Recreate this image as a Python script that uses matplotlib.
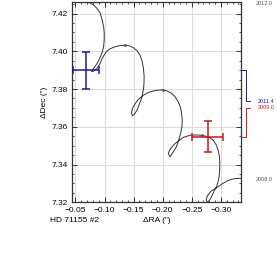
import numpy as np
import matplotlib
matplotlib.use('Agg')
import matplotlib.pyplot as plt
from matplotlib.ticker import MultipleLocator
import matplotlib.transforms as mtransforms

plt.rcParams['font.family'] = ['Liberation Sans', 'DejaVu Sans']

# apparent track of the companion (RA, Dec offsets in arcsec)
track_ra = [-0.0618, -0.0721, -0.0807, -0.0875, -0.0926, -0.0961, -0.0986, -0.0995, -0.0995, -0.0983,
            -0.0961, -0.0926, -0.0884, -0.0841, -0.0798, -0.0772, -0.0815, -0.0875, -0.0926, -0.0961,
            -0.1003, -0.1041, -0.1098, -0.1183, -0.1269, -0.1354, -0.1423, -0.1497, -0.1560, -0.1611,
            -0.1646, -0.1668, -0.1680, -0.1680, -0.1671, -0.1654, -0.1628, -0.1594, -0.1568, -0.1526,
            -0.1483, -0.1462, -0.1483, -0.1521, -0.1577, -0.1668, -0.1731, -0.1783, -0.1868, -0.1954,
            -0.2010, -0.2074, -0.2151, -0.2211, -0.2267, -0.2305, -0.2325, -0.2336, -0.2330, -0.2308,
            -0.2267, -0.2236, -0.2185, -0.2125, -0.2096, -0.2139, -0.2211, -0.2296, -0.2353, -0.2467,
            -0.2570, -0.2673, -0.2781, -0.2866, -0.2921, -0.2952, -0.2974, -0.2981, -0.2978, -0.2969,
            -0.2950, -0.2925, -0.2887, -0.2853, -0.2818, -0.2767, -0.2747, -0.2772, -0.2827, -0.2925,
            -0.2981, -0.3038, -0.3110, -0.3182, -0.3255, -0.3324, -0.3409]
track_dec = [7.4281, 7.4261, 7.4247, 7.4226, 7.4202, 7.4165, 7.4128, 7.4096, 7.4059, 7.4023,
             7.3995, 7.3969, 7.3942, 7.3921, 7.3903, 7.3893, 7.3895, 7.3911, 7.3937, 7.3963,
             7.3985, 7.4001, 7.4014, 7.4024, 7.4031, 7.4032, 7.4030, 7.4019, 7.4003, 7.3979,
             7.3948, 7.3911, 7.3874, 7.3836, 7.3805, 7.3773, 7.3744, 7.3717, 7.3694, 7.3672,
             7.3658, 7.3675, 7.3699, 7.3720, 7.3744, 7.3767, 7.3778, 7.3785, 7.3792, 7.3795,
             7.3795, 7.3790, 7.3778, 7.3760, 7.3732, 7.3704, 7.3671, 7.3635, 7.3598, 7.3565,
             7.3521, 7.3495, 7.3469, 7.3441, 7.3461, 7.3487, 7.3511, 7.3531, 7.3544, 7.3555,
             7.3557, 7.3555, 7.3547, 7.3530, 7.3503, 7.3477, 7.3445, 7.3406, 7.3371, 7.3335,
             7.3307, 7.3283, 7.3262, 7.3238, 7.3217, 7.3197, 7.3215, 7.3236, 7.3258, 7.3277,
             7.3289, 7.3301, 7.3313, 7.3322, 7.3326, 7.3327, 7.3327]

# small date markers on the track
mark_ra = [-0.1354, -0.2010, -0.2673]
mark_dec = [7.4032, 7.3795, 7.3555]

# measurements
epochs = ['2011.4', '2009.0']
meas_ra = [-0.0682, -0.2771]
meas_dec = [7.3900, 7.3547]
err_ra = [0.0228, 0.0270]
err_dec = [0.0098, 0.0082]
meas_colors = ['#1c1c9c', '#c81818']
label_colors = ['#1c1cc8', '#e01818']
label_dec = [7.3736, 7.3701]

# epochs at the ends of the track
end_labels = ['2012.0', '2008.0']
end_dec = [7.4255, 7.3323]

fig = plt.figure(figsize=(2.77, 2.69), dpi=100)
ax = fig.add_axes([0.2617, 0.248, 0.6072, 0.7436])

ax.grid(True, color='#dcdcdc', linewidth=0.8, zorder=0)
ax.plot(track_ra, track_dec, color='#333333', linewidth=0.7, zorder=2)
ax.plot(mark_ra, mark_dec, 'o', color='#555555', markersize=1.0, zorder=2)

for i in range(len(epochs)):
    ax.errorbar(meas_ra[i], meas_dec[i], xerr=err_ra[i], yerr=err_dec[i], color=meas_colors[i],
                elinewidth=1.1, capsize=3.0, capthick=1.1, zorder=3)

ax.set_xlim(-0.045, -0.334)
ax.set_ylim(7.32, 7.426)
ax.xaxis.set_major_locator(MultipleLocator(0.05))
ax.xaxis.set_minor_locator(MultipleLocator(0.01))
ax.yaxis.set_major_locator(MultipleLocator(0.02))
ax.yaxis.set_minor_locator(MultipleLocator(0.005))
ax.xaxis.set_major_formatter(plt.FuncFormatter(lambda v, p: ('%.2f' % v).replace('-', '\u2212')))
ax.tick_params(which='both', direction='in', top=True, right=True, colors='#333333',
               labelcolor='black', labelsize=6)
ax.tick_params(which='major', length=3.4, width=0.7, pad=3.2)
ax.tick_params(which='minor', length=1.6, width=0.6)
for s in ax.spines.values():
    s.set_color('#333333')
    s.set_linewidth(0.9)

ax.set_ylabel('\u0394Dec (")', fontsize=6, labelpad=3)
ax.set_xlabel('\u0394RA (")', fontsize=6, labelpad=2)
fig.text(50 / 277, 1 - 221 / 269, 'HD 71155 #2', fontsize=6, ha='left', va='center')

# connectors from the measurements to the epoch labels on the right
tr = mtransforms.blended_transform_factory(ax.transAxes, ax.transData)
for i in range(len(epochs)):
    ax.plot([1.0, 1.03, 1.03, 1.055], [meas_dec[i], meas_dec[i], label_dec[i], label_dec[i]],
            color=meas_colors[i], linewidth=0.7, transform=tr, clip_on=False)
    ax.text(1.1, label_dec[i], epochs[i], color=label_colors[i], fontsize=4, va='center',
            ha='left', transform=tr, clip_on=False)
for lab, d in zip(end_labels, end_dec):
    ax.text(1.09, d, lab, color='#555555', fontsize=4, va='center', ha='left',
            transform=tr, clip_on=False)

fig.savefig('out.png', dpi=100)
